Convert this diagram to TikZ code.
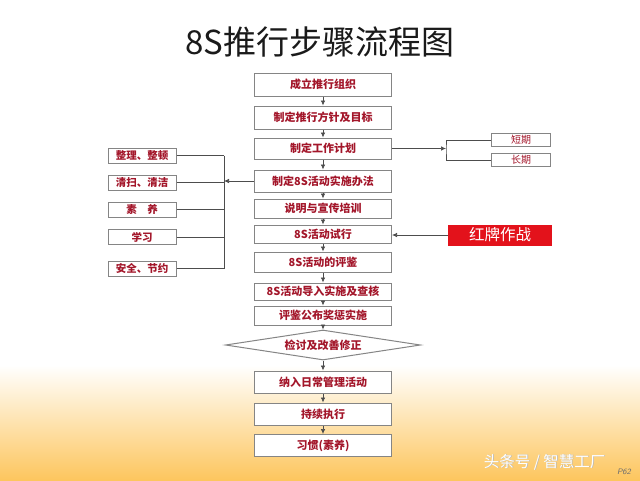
\documentclass[tikz,border=0pt]{standalone}
\usepackage{fontspec}
\newfontfamily\cjk{Noto Sans CJK SC}
\usetikzlibrary{arrows.meta, shapes.geometric}
\definecolor{ink}    {HTML}{1A1A1A}
\definecolor{label}  {HTML}{A3162A}
\definecolor{edge}   {HTML}{858585}
\definecolor{wire}   {HTML}{4D4D4D}
\definecolor{alarm}  {HTML}{E3121B}
\definecolor{glow}   {HTML}{FDC65E}
\definecolor{mute}   {HTML}{6E6E6E}

\tikzset{
  stepbox/.style={draw=edge, line width=1pt, fill=white, minimum width=137pt,
                  inner sep=0pt, text=label, font=\cjk\bfseries\fontsize{11}{13}\selectfont},
  sidebox/.style={stepbox, minimum width=68pt, minimum height=15pt,
                  font=\cjk\bfseries\fontsize{10.5}{12}\selectfont},
  termbox/.style={draw=edge, line width=0.8pt, fill=white, minimum width=59pt,
                  minimum height=13pt, inner sep=0pt, text=label,
                  font=\cjk\fontsize{10}{11}\selectfont},
  wireline/.style={draw=wire, line width=0.7pt},
  arr/.style={wireline, -{Latex[length=5pt, width=4.5pt]}},
}

\begin{document}
\begin{tikzpicture}[x=1pt, y=-1pt]
    \useasboundingbox (0,0) rectangle (640,480);
    \fill[white] (0,0) rectangle (640,366);
    \shade[top color=white, bottom color=glow] (0,365) rectangle (640,480);

    \node[text=ink, font=\cjk\fontsize{33}{38}\selectfont] (title) at (320,42) {8S推行步骤流程图};

    \foreach \y/\h/\t [count=\i] in
      {84.5/23/成立推行组织, 117.5/23/制定推行方针及目标, 148.5/21/制定工作计划,
       181/22/制定8S活动实施办法, 208.5/19/说明与宣传培训, 234/18/8S活动试行,
       262/20/8S活动的评鉴, 291.5/17/8S活动导入实施及查核, 315.5/19/评鉴公布奖惩实施}
      {\node[stepbox, minimum height=\h pt] (step\i) at (323,\y) {\t};}
    \node[stepbox, diamond, aspect=6.5, minimum width=195pt, minimum height=30pt]
      (review) at (323,345) {检讨及改善修正};
    \foreach \y/\t [count=\i from 10] in
      {382/纳入日常管理活动, 414/持续执行, 445.5/习惯(素养)}
      {\node[stepbox, minimum height=22pt] (step\i) at (323,\y) {\t};}

    \foreach \a/\b in {1/2, 2/3, 3/4, 4/5, 5/6, 6/7, 7/8, 8/9, 10/11, 11/12}
      \draw[arr] (step\a.south) -- (step\b.north);
    \draw[arr] (step9.south) -- (review.north);
    \draw[arr] (review.south) -- (step10.north);

    \foreach \y/\t [count=\i] in
      {155.5/整理、整顿, 182.5/清扫、清洁, 209.5/素\hspace{1em}养, 237/学习, 268.5/安全、节约}
      {\node[sidebox] (side\i) at (142,\y) {\t};}
    \coordinate (bus) at (224,0);
    \foreach \i in {1,...,5}
      \draw[wireline] (side\i.east) -- (side\i.east -| bus);
    \draw[wireline] (side1.east -| bus) -- (side5.east -| bus);
    \draw[arr] (step4.west) -- (step4.west -| bus);

    \node[termbox] (short) at (521,140) {\raisebox{-3pt}{短期}};
    \node[termbox] (long)  at (521,160) {\raisebox{-3pt}{长期}};
    \coordinate (fork) at (446,148.5);
    \draw[arr] (step3.east) -- (fork);
    \draw[wireline] (short.west) -| (fork) |- (long.west);

    \node[fill=alarm, minimum width=104pt, minimum height=21pt, inner sep=0pt, text=white,
          font=\cjk\fontsize{15.5}{18}\selectfont] (redtag) at (500,235) {红牌作战};
    \draw[arr] (redtag.west) -- (redtag.west -| step6.east);

    \node[text=mute!50, font=\cjk\fontsize{15.5}{18}\selectfont, anchor=east]
      (markshade) at (609.6,462.6) {头条号 / 智慧工厂};
    \node[text=white, font=\cjk\fontsize{15.5}{18}\selectfont, anchor=east]
      (mark) at (609,462) {头条号 / 智慧工厂};
    \node[text=mute, font=\sffamily\itshape\fontsize{8}{9}\selectfont] (page) at (624,472) {P62};
\end{tikzpicture}
\end{document}
